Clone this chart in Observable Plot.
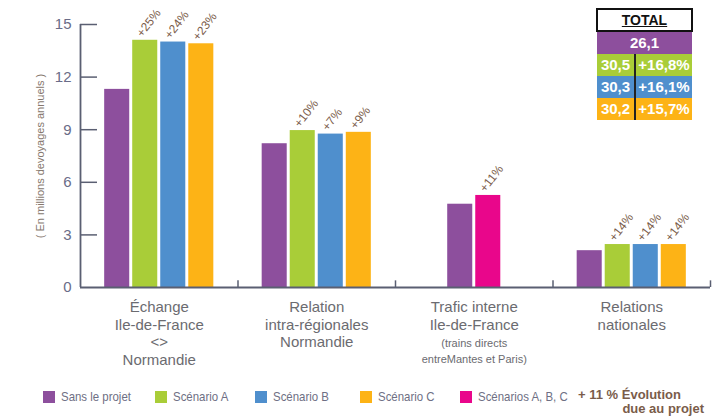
<!DOCTYPE html>
<html>
<head>
<meta charset="utf-8">
<script src="https://cdn.jsdelivr.net/npm/d3@7"></script>
<script src="https://cdn.jsdelivr.net/npm/@observablehq/plot@0.6"></script>
<style>
  body { margin: 0; background: #fff; }
  #wrap { position: relative; width: 713px; height: 417px; font-family: "Liberation Sans", Arial, sans-serif; }
  #legend { position: absolute; top: 389px; left: 0; width: 713px; height: 28px; font-size: 13px; color: #6e6f84; }
  .li { position: absolute; top: 0; display: flex; align-items: center; white-space: nowrap; }
  .sw { width: 12px; height: 12px; margin-right: 6px; flex: none; }
  .lt { display: inline-block; transform: scaleX(0.88); transform-origin: left center; }
  #total { position: absolute; left: 596px; top: 8px; width: 97px; border-collapse: collapse; font-weight: bold; }
  #total td { padding: 0; text-align: center; color: #fff; font-size: 15px; height: 22px; line-height: 22px; }
  #total th { border: 2px solid #111; height: 20px; line-height: 20px; font-size: 14px; color: #111; text-decoration: underline; background: #fff; padding: 0; }
</style>
</head>
<body>
<div id="wrap"></div>
<script>
// ---- data ----
const groups = ["Échange\nIle-de-France\n<>\nNormandie", "Relation\nintra-régionales\nNormandie", "Trafic interne\nIle-de-France", "Relations\nnationales"];
const groupNotes = ["", "", "(trains directs\nentreMantes et Paris)", ""];
const series = ["Sans le projet", "Scénario A", "Scénario B", "Scénario C", "Scénarios A, B, C"];
const seriesColors = ["#8d4f9d", "#a9cd38", "#4f8fcd", "#fdb316", "#e9068b"];
const sansProjet   = [11.3, 8.2, 4.75, 2.1];
const scenarioA    = [14.1, 8.95, null, 2.45];
const scenarioB    = [14.0, 8.75, null, 2.45];
const scenarioC    = [13.9, 8.85, null, 2.45];
const scenariosABC = [null, null, 5.25, null];
const evolA   = ["+25%", "+10%", null, "+14%"];
const evolB   = ["+24%", "+7%", null, "+14%"];
const evolC   = ["+23%", "+9%", null, "+14%"];
const evolABC = [null, null, "+11%", null];
const yTicks = [0, 3, 6, 9, 12, 15];
const yLabel = "( En millions devoyages annuels )";
const totalValues = ["26,1", "30,5", "30,3", "30,2"];
const totalEvol = [null, "+16,8%", "+16,1%", "+15,7%"];
const legendNote = ["+ 11 % Évolution", "due au projet"];

// ---- build rows ----
const valueSets = [sansProjet, scenarioA, scenarioB, scenarioC, scenariosABC];
const evolSets = [[null, null, null, null], evolA, evolB, evolC, evolABC];
const pitch = 0.178, bw = 0.159;
const bars = [];
groups.forEach((g, gi) => {
  const present = series.map((s, si) => ({s, si, v: valueSets[si][gi], e: evolSets[si][gi]})).filter(d => d.v != null);
  const n = present.length;
  present.forEach((d, i) => {
    const c = gi + 0.5 + (i - (n - 1) / 2) * pitch;
    bars.push({series: d.s, value: d.v, evol: d.e, cx: c, x1: c - bw / 2, x2: c + bw / 2});
  });
});
const groupRows = groups.map((g, i) => ({label: g, note: groupNotes[i], x: i + 0.5}));
const axisColor = "#5a5f72";

const chart = Plot.plot({
  width: 713, height: 385,
  marginLeft: 80, marginRight: 3, marginTop: 24, marginBottom: 98,
  style: {fontFamily: '"Liberation Sans", Arial, sans-serif', background: "transparent"},
  x: {domain: [0, 4], axis: null},
  y: {domain: [0, 15], axis: null},
  color: {domain: series, range: seriesColors},
  marks: [
    Plot.axisY({ticks: yTicks, tickSize: 0, tickPadding: 9, label: null, fontSize: 15, color: "#6a6c88"}),
    Plot.ruleY(yTicks.filter(t => t > 0), {x1: 0, x2: 0.108, stroke: axisColor, strokeWidth: 1.5}),
    Plot.rectY(bars, {x1: "x1", x2: "x2", y: "value", fill: "series"}),
    Plot.ruleX([0], {y1: 0, y2: 15, stroke: axisColor, strokeWidth: 1.8}),
    Plot.ruleY([0], {x1: 0, x2: 4, stroke: axisColor, strokeWidth: 1.8}),
    Plot.ruleX([1, 2, 3, 4], {y1: 0, y2: 0.38, stroke: axisColor, strokeWidth: 1.5}),
    Plot.text(bars.filter(d => d.evol), {x: "cx", y: "value", text: "evol", rotate: -52, textAnchor: "start", dx: -6, dy: -5, fontSize: 12, fill: "#7a5c4a"}),
    Plot.text(groupRows, {x: "x", y: 0, text: "label", lineAnchor: "top", dy: 12, fontSize: 15, lineHeight: 1.17, fill: "#6b6b70"}),
    Plot.text(groupRows.filter(d => d.note), {x: "x", y: 0, text: "note", lineAnchor: "top", dy: 48, fontSize: 11, lineHeight: 1.45, fill: "#6b6b70"}),
    Plot.text([yLabel], {frameAnchor: "left", textAnchor: "middle", dx: -40, rotate: -90, fontSize: 11, fill: "#86786e"})
  ]
});
const wrap = document.getElementById("wrap");
wrap.appendChild(chart);

// total table
const tbl = document.createElement("table");
tbl.id = "total";
let html = "<tr><th colspan='2'>TOTAL</th></tr>";
totalValues.forEach((v, i) => {
  const col = seriesColors[i];
  if (totalEvol[i] == null) html += `<tr><td colspan="2" style="background:${col}">${v}</td></tr>`;
  else html += `<tr><td style="background:${col};width:37px;border-right:2px solid #222">${v}</td><td style="background:${col}">${totalEvol[i]}</td></tr>`;
});
tbl.innerHTML = html;
wrap.appendChild(tbl);

// legend
const leg = document.createElement("div");
leg.id = "legend";
const lefts = [43, 155, 255, 360, 460];
series.forEach((s, i) => {
  const d = document.createElement("div");
  d.className = "li";
  d.style.left = lefts[i] + "px";
  d.innerHTML = `<span class="sw" style="background:${seriesColors[i]}"></span><span class="lt">${s}</span>`;
  leg.appendChild(d);
});
const note = document.createElement("div");
note.style.cssText = "position:absolute;left:578px;top:-1px;width:126px;font-weight:bold;color:#7a5c4a;line-height:14px;font-size:13px;white-space:nowrap;";
note.innerHTML = `<div>${legendNote[0]}</div><div style="text-align:right">${legendNote[1]}</div>`;
leg.appendChild(note);
wrap.appendChild(leg);
</script>
</body>
</html>
